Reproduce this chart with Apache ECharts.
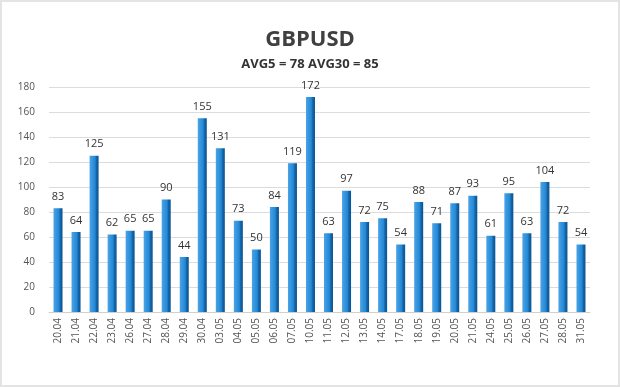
<!DOCTYPE html>
<html><head><meta charset="utf-8">
<script src="https://cdn.jsdelivr.net/npm/echarts@6/dist/echarts.min.js"></script>
<style>html,body{margin:0;padding:0;background:#fff}#c{width:620px;height:387px;box-sizing:border-box;border:2px solid #e4e4e4}</style>
</head><body><div id="c"></div>
<script>
const categories = ["20.04","21.04","22.04","23.04","26.04","27.04","28.04","29.04","30.04","03.05","04.05","05.05","06.05","07.05","10.05","11.05","12.05","13.05","14.05","17.05","18.05","19.05","20.05","21.05","24.05","25.05","26.05","27.05","28.05","31.05"];
const values = [83,64,125,62,65,65,90,44,155,131,73,50,84,119,172,63,97,72,75,54,88,71,87,93,61,95,63,104,72,54];
const titleText = "GBPUSD";
const subtitleText = "AVG5 = 78 AVG30 = 85";
const chart = echarts.init(document.getElementById('c'));
chart.setOption({
  animation:false,
  title:[{text:titleText,left:'center',top:22,textStyle:{fontFamily:'Open Sans',fontSize:22,fontWeight:'bold',color:'#404040'}},
         {text:subtitleText,left:'center',top:51,textStyle:{fontFamily:'Open Sans',fontSize:13,fontWeight:'bold',color:'#333'}}],
  grid:{left:47,right:28,top:85,bottom:73},
  xAxis:{type:'category',data:categories,
    axisLine:{lineStyle:{color:'#d0d0d0'}},axisTick:{show:false},
    axisLabel:{rotate:90,fontFamily:'Open Sans',fontSize:10,color:'#555',margin:6}},
  yAxis:{type:'value',min:0,max:180,interval:20,
    axisLine:{show:false},axisTick:{show:false},
    splitLine:{lineStyle:{color:'#dcdcdc'}},
    axisLabel:{fontFamily:'Open Sans',fontSize:10,color:'#555',margin:14}},
  series:[{type:'bar',data:values,barWidth:9,
    itemStyle:{color:new echarts.graphic.LinearGradient(0,0,1,0,[
      {offset:0,color:'#4aa3e6'},{offset:0.6,color:'#2388d6'},{offset:0.75,color:'#1466a8'},{offset:1,color:'#0d5391'}])},
    label:{show:true,position:'top',distance:6,fontFamily:'Open Sans',fontSize:11,color:'#333'}}]
});
</script></body></html>
